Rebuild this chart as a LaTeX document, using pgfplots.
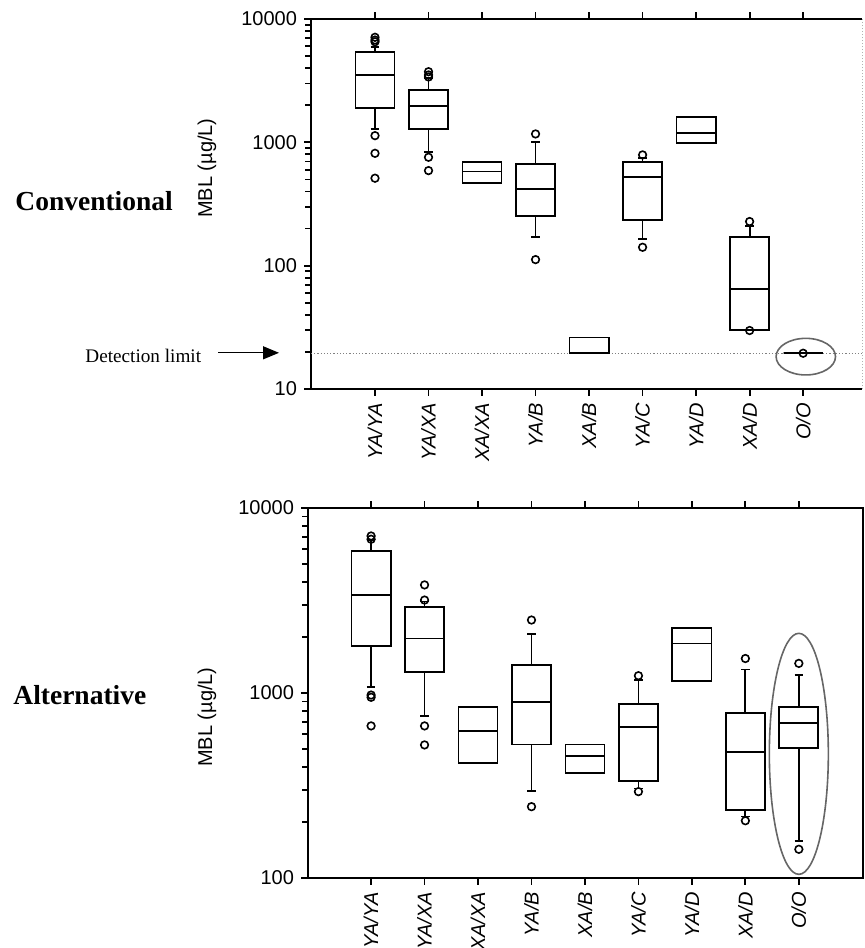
\documentclass[border=0pt]{standalone}
\usepackage{pgfplots}
\pgfplotsset{compat=1.18}
\usepgfplotslibrary{statistics}
\usetikzlibrary{arrows.meta}
\usepackage{fontspec}
\setmainfont{Liberation Sans}
\setsansfont{Liberation Sans}
\newfontfamily\serif{Liberation Serif}
\begin{document}
\begin{tikzpicture}
\path[use as bounding box] (0pt,0pt) rectangle (432pt,-474pt);
\pgfplotsset{
  mybox/.style={black, line width=0.9pt, mark=o, mark size=1.9pt, mark options={solid, line width=0.8pt}},
  mbaxis/.style={
    scale only axis, anchor=south west, clip=false,
    xtick={1,...,9},
    xticklabels={YA/YA,YA/XA,XA/XA,YA/B,XA/B,YA/C,YA/D,XA/D,O/O},
    tick align=outside,
    major tick length=3.5pt,
    every tick/.style={black, line width=0.9pt},
    xticklabel style={rotate=90, anchor=east, font=\itshape\fontsize{10}{12}\selectfont},
    yticklabel style={font=\fontsize{10}{12}\selectfont},
    boxplot/draw direction=y,
    boxplot/box extend=0.73,
    boxplot/whisker extend=0.16,
  }
}
% ---------- top panel ----------
\begin{axis}[mbaxis, ymode=log,
  at={(155.5pt,-194.5pt)}, width=275.5pt, height=185pt,
  xmin=-0.196, xmax=10.1, ymin=10, ymax=10000,
  ytick={10,100,1000,10000}, yticklabels={10,100,1000,10000},
  axis x line*=box, axis y line*=left,
  axis line style={-, line width=1.1pt},
]
\addplot[densely dotted, gray, line width=0.6pt] coordinates {(-0.196,19.5) (10.1,19.5)};
\addplot[mybox, boxplot prepared={draw position=1, lower whisker=1285, lower quartile=1890, median=3520, upper quartile=5440, upper whisker=5970}]
  table[row sep=\\, y index=0] {y\\512\\815\\1133\\6540\\6760\\7110\\};
\addplot[mybox, boxplot prepared={draw position=2, lower whisker=840, lower quartile=1285, median=1973, upper quartile=2660, upper whisker=3310}]
  table[row sep=\\, y index=0] {y\\590\\757\\3390\\3520\\3740\\};
\addplot[mybox, boxplot prepared={draw position=3, lower whisker=469, lower quartile=469, median=580, upper quartile=689, upper whisker=689}]
  coordinates {};
\addplot[mybox, boxplot prepared={draw position=4, lower whisker=170, lower quartile=253, median=419, upper quartile=668, upper whisker=1014}]
  table[row sep=\\, y index=0] {y\\112\\1170\\};
\addplot[mybox, boxplot prepared={draw position=5, lower whisker=19.7, lower quartile=19.7, median=19.7, upper quartile=26.2, upper whisker=26.2}]
  coordinates {};
\addplot[mybox, boxplot prepared={draw position=6, lower whisker=165, lower quartile=235, median=521, upper quartile=689, upper whisker=743}]
  table[row sep=\\, y index=0] {y\\141\\791\\};
\addplot[mybox, boxplot prepared={draw position=7, lower whisker=995, lower quartile=995, median=1190, upper quartile=1600, upper whisker=1600}]
  coordinates {};
\addplot[mybox, boxplot prepared={draw position=8, lower whisker=30.1, lower quartile=30.1, median=64.4, upper quartile=170, upper whisker=209}]
  table[row sep=\\, y index=0] {y\\29.8\\228\\};
\addplot[mybox, boxplot prepared={draw position=9, lower whisker=19.5, lower quartile=19.5, median=19.5, upper quartile=19.5, upper whisker=19.5}]
  table[row sep=\\, y index=0] {y\\19.5\\};
\draw[gray!60, densely dotted, line width=0.5pt] (rel axis cs:1,0) -- (rel axis cs:1,1);
\draw[gray!80!black, line width=0.8pt] (axis cs:9.05,18.3) ellipse [x radius=14.85pt, y radius=9.15pt];
\pgfplotsinvokeforeach{20,30,40,50,60,70,80,90,200,300,400,500,600,700,800,900,2000,3000,4000,5000,6000,7000,8000,9000}{
  \draw[black, line width=0.8pt] (axis cs:-0.196,#1) -- ++(-2.2pt,0pt);}
\pgfplotsinvokeforeach{10,100,1000,10000}{
  \draw[black, line width=0.9pt] (axis cs:-0.196,#1) -- ++(-3.5pt,0pt);}
\end{axis}
% ---------- bottom panel ----------
\begin{axis}[mbaxis, ymode=log,
  at={(154pt,-439pt)}, width=277.5pt, height=185pt,
  xmin=-0.18, xmax=10.2, ymin=100, ymax=10000,
  ytick={100,1000,10000}, yticklabels={100,1000,10000},
  ytick pos=left, xtick pos=both,
  axis line style={line width=1pt},
]
\addplot[mybox, boxplot prepared={draw position=1, lower whisker=1082, lower quartile=1803, median=3390, upper quartile=5860, upper whisker=6710}]
  table[row sep=\\, y index=0] {y\\664\\948\\975\\6780\\7060\\};
\addplot[mybox, boxplot prepared={draw position=2, lower whisker=753, lower quartile=1294, median=1972, upper quartile=2930, upper whisker=3120}]
  table[row sep=\\, y index=0] {y\\524\\664\\3180\\3840\\};
\addplot[mybox, boxplot prepared={draw position=3, lower whisker=417, lower quartile=417, median=625, upper quartile=837, upper whisker=837}]
  coordinates {};
\addplot[mybox, boxplot prepared={draw position=4, lower whisker=295, lower quartile=527, median=897, upper quartile=1417, upper whisker=2075}]
  table[row sep=\\, y index=0] {y\\243\\2480\\};
\addplot[mybox, boxplot prepared={draw position=5, lower whisker=368, lower quartile=368, median=458, upper quartile=527, upper whisker=527}]
  coordinates {};
\addplot[mybox, boxplot prepared={draw position=6, lower whisker=305, lower quartile=334, median=657, upper quartile=875, upper whisker=1175}]
  table[row sep=\\, y index=0] {y\\293\\1240\\};
\addplot[mybox, boxplot prepared={draw position=7, lower whisker=1166, lower quartile=1166, median=1854, upper quartile=2235, upper whisker=2235}]
  coordinates {};
\addplot[mybox, boxplot prepared={draw position=8, lower whisker=215, lower quartile=233, median=481, upper quartile=776, upper whisker=1341}]
  table[row sep=\\, y index=0] {y\\204\\1536\\};
\addplot[mybox, boxplot prepared={draw position=9, lower whisker=159, lower quartile=502, median=686, upper quartile=837, upper whisker=1250}]
  table[row sep=\\, y index=0] {y\\143\\1446\\};
\draw[gray!80!black, line width=0.8pt] (axis cs:9.0,469) ellipse [x radius=14.75pt, y radius=60.25pt];
\pgfplotsinvokeforeach{200,300,400,500,600,700,800,900,2000,3000,4000,5000,6000,7000,8000,9000}{
  \draw[black, line width=0.8pt] (axis cs:-0.18,#1) -- ++(-2.2pt,0pt);}
\pgfplotsinvokeforeach{100,1000,10000}{
  \draw[black, line width=0.9pt] (axis cs:-0.18,#1) -- ++(-3.5pt,0pt);}
\end{axis}
% ---------- annotations ----------
\node[anchor=base west, inner sep=0pt, font=\serif\bfseries\fontsize{13.75}{16}\selectfont] at (7.5pt,-105pt) {Conventional};
\node[anchor=base west, inner sep=0pt, font=\serif\bfseries\fontsize{13.75}{16}\selectfont] at (6.5pt,-352pt) {Alternative};
\node[anchor=base west, inner sep=0pt, font=\serif\fontsize{9.6}{11}\selectfont] at (42.5pt,-181pt) {Detection limit};
\draw[line width=0.6pt, -{Triangle[length=8pt,width=6.5pt]}] (109pt,-176.4pt) -- (139.5pt,-176.4pt);
\node[rotate=90, inner sep=0pt, font=\fontsize{10}{12}\selectfont] at (103.5pt,-84pt) {MBL (µg/L)};
\node[rotate=90, inner sep=0pt, font=\fontsize{10}{12}\selectfont] at (103.5pt,-358.5pt) {MBL (µg/L)};
\end{tikzpicture}
\end{document}
